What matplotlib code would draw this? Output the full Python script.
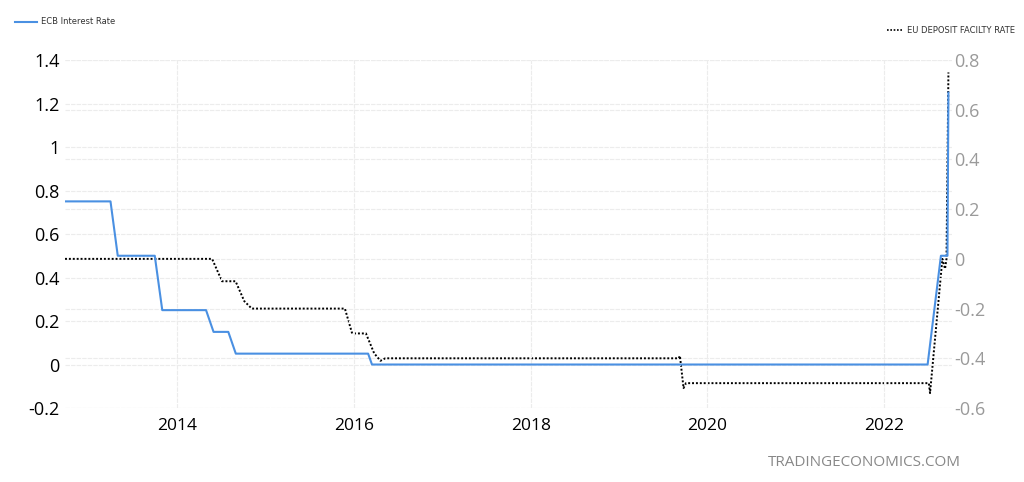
import matplotlib
matplotlib.use('Agg')
import matplotlib.pyplot as plt
import matplotlib.dates as mdates
import pandas as pd

# ECB main refinancing rate (left axis)
ecb_dates = ['2012-09-24', '2013-03-31', '2013-04-30', '2013-09-30', '2013-10-31',
             '2014-04-30', '2014-05-31', '2014-07-31', '2014-08-31', '2016-02-29',
             '2016-03-16', '2022-06-30', '2022-08-24', '2022-09-20', '2022-09-24']
ecb_rate = [0.75, 0.75, 0.50, 0.50, 0.25,
            0.25, 0.15, 0.15, 0.05, 0.05,
            0.00, 0.00, 0.50, 0.50, 1.25]

# EU deposit facility rate (right axis)
dep_dates = ['2012-09-24', '2014-05-25', '2014-07-05', '2014-08-30', '2014-10-05',
             '2014-11-05', '2015-11-25', '2015-12-25', '2016-02-20', '2016-03-25',
             '2016-04-20', '2016-05-10', '2019-09-05', '2019-09-10', '2019-09-25',
             '2019-10-05', '2019-10-25', '2022-07-05', '2022-07-10', '2022-08-30',
             '2022-09-10', '2022-09-16', '2022-09-24']
dep_rate = [0.00, 0.00, -0.09, -0.09, -0.17,
            -0.20, -0.20, -0.30, -0.30, -0.38,
            -0.41, -0.40, -0.40, -0.39, -0.52,
            -0.50, -0.50, -0.50, -0.54, 0.00,
            -0.04, 0.00, 0.75]

ecb_dates = pd.to_datetime(ecb_dates)
dep_dates = pd.to_datetime(dep_dates)

fig = plt.figure(figsize=(10.24, 4.82), dpi=100)
ax = fig.add_axes([0.0635, 0.1535, 0.866, 0.722])
ax2 = ax.twinx()

grid_kw = dict(color='#ececec', linewidth=0.8, linestyle=(0, (4, 1)))

ax.plot(ecb_dates, ecb_rate, color='#4a90e2', linewidth=1.5, zorder=3)
ax2.plot(dep_dates, dep_rate, color='black', linewidth=1.4, linestyle=(0, (1, 1)), zorder=3)

ax.set_xlim(pd.Timestamp('2012-09-24'), pd.Timestamp('2022-10-08'))
ax.set_ylim(-0.2, 1.4)
ax2.set_ylim(-0.6, 0.8)

left_ticks = [-0.2, 0, 0.2, 0.4, 0.6, 0.8, 1, 1.2, 1.4]
right_ticks = [-0.6, -0.4, -0.2, 0, 0.2, 0.4, 0.6, 0.8]
ax.set_yticks(left_ticks)
ax.set_yticklabels(['-0.2', '0', '0.2', '0.4', '0.6', '0.8', '1', '1.2', '1.4'])
ax2.set_yticks(right_ticks)
ax2.set_yticklabels(['-0.6', '-0.4', '-0.2', '0', '0.2', '0.4', '0.6', '0.8'])

ax.xaxis.set_major_locator(mdates.YearLocator(2, month=1, day=1))
ax.xaxis.set_major_formatter(mdates.DateFormatter('%Y'))

ax.grid(True, axis='both', **grid_kw)
ax2.grid(True, axis='y', **grid_kw)
ax.set_axisbelow(True)
ax2.set_axisbelow(True)
ax.set_zorder(2)
ax.patch.set_visible(False)
ax2.set_zorder(1)

for a in (ax, ax2):
    for s in a.spines.values():
        s.set_visible(False)
    a.tick_params(length=0)

ax.tick_params(axis='y', labelsize=13, labelcolor='black', pad=4)
ax.tick_params(axis='x', labelsize=12.5, labelcolor='black', pad=7)
ax2.tick_params(axis='y', labelsize=13, labelcolor='#9a9a9a', pad=2)
for lbl in ax.get_yticklabels() + ax.get_xticklabels() + ax2.get_yticklabels():
    lbl.set_fontfamily('Open Sans')

# legends
fig.lines.append(plt.Line2D([0.015, 0.036], [0.955, 0.955], color='#4a90e2',
                            linewidth=1.5, transform=fig.transFigure))
fig.text(0.04, 0.955, 'ECB Interest Rate', fontsize=6, va='center', ha='left', color='#333333')
fig.lines.append(plt.Line2D([0.866, 0.882], [0.937, 0.937], color='black',
                            linewidth=1.2, linestyle=(0, (1, 1)), transform=fig.transFigure))
fig.text(0.886, 0.937, 'EU DEPOSIT FACILTY RATE', fontsize=6, va='center', ha='left', color='#333333')

fig.text(0.938, 0.04, 'TRADINGECONOMICS.COM', fontsize=11, color='#888888',
         ha='right', va='center', fontfamily='Open Sans')

fig.savefig('out.png', dpi=100)
